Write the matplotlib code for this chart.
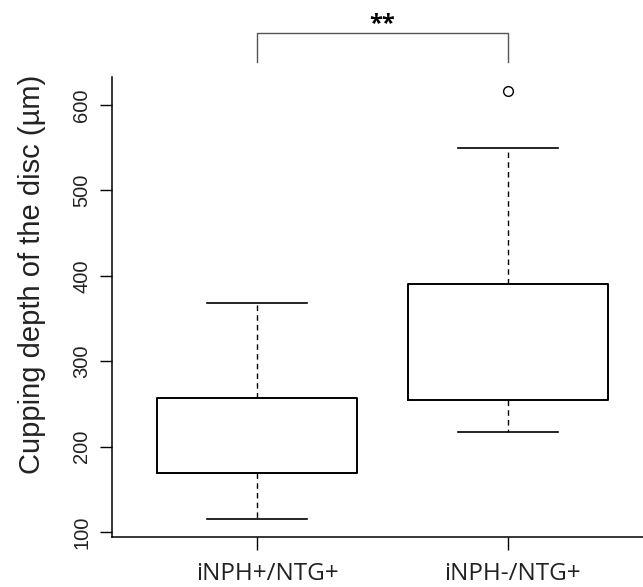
import matplotlib.pyplot as plt
from matplotlib.transforms import ScaledTranslation

groups = ["iNPH+/NTG+", "iNPH-/NTG+"]
whisker_low = [115, 217]
q1 = [169, 254]
medians = [219, 296]
q3 = [257, 390]
whisker_high = [368, 550]
outliers = [[], [616]]
y_ticks = [100, 200, 300, 400, 500, 600]
signif = "**"

fig = plt.figure(figsize=(6.43, 5.87), dpi=100)
# axes placed so spines sit where the reference draws them
ax = fig.add_axes([112 / 643, 1 - 537 / 587, 531 / 643, 460 / 587])

stats = []
for i in range(len(groups)):
    stats.append(dict(whislo=whisker_low[i], q1=q1[i], med=medians[i],
                      q3=q3[i], whishi=whisker_high[i], fliers=outliers[i]))

ax.bxp(stats, positions=[1, 2], widths=0.8, showfliers=True,
       boxprops=dict(color='black', linewidth=1.4),
       whiskerprops=dict(color='black', linewidth=1.0, linestyle=(0, (4, 3))),
       capprops=dict(color='black', linewidth=1.2),
       medianprops=dict(linewidth=0),
       flierprops=dict(marker='o', markersize=7, markerfacecolor='none',
                       markeredgecolor='black', markeredgewidth=1.0))

ax.set_xlim(0.422, 2.538)
ax.set_ylim(94.1, 632.8)
ax.set_yticks(y_ticks)
ax.set_yticklabels([str(v) for v in y_ticks], rotation=90, va='center',
                   fontsize=14.5, family='Liberation Sans', color='#222222')
ax.set_xticks([1, 2])
ax.set_xticklabels(groups, fontsize=17.5, family='Open Sans', color='#222222')
ax.tick_params(axis='x', length=9, width=1, pad=9)
ax.tick_params(axis='y', length=9, width=1, pad=6)

# the labels in the original sit a little right of their ticks
for lab, dx in zip(ax.get_xticklabels(), [10, 4]):
    lab.set_transform(lab.get_transform() +
                      ScaledTranslation(dx / 100, 0, fig.dpi_scale_trans))

ax.spines['top'].set_visible(False)
ax.spines['right'].set_visible(False)
ax.spines['left'].set_linewidth(1.1)
ax.spines['bottom'].set_linewidth(1.1)
ax.set_ylabel("Cupping depth of the disc (\u00b5m)", fontsize=21,
              family='Liberation Sans', color='#222222')
ax.yaxis.set_label_coords(-0.125, 0.57)

# significance bracket above the boxes
ax.plot([1, 1, 2, 2], [650, 684, 684, 650], color='#555555', linewidth=1.0,
        clip_on=False)
ax.text(1.5, 688, signif, ha='center', va='baseline', fontsize=17,
        fontweight='bold', family='Open Sans', clip_on=False)

fig.savefig("out.png", dpi=100)
